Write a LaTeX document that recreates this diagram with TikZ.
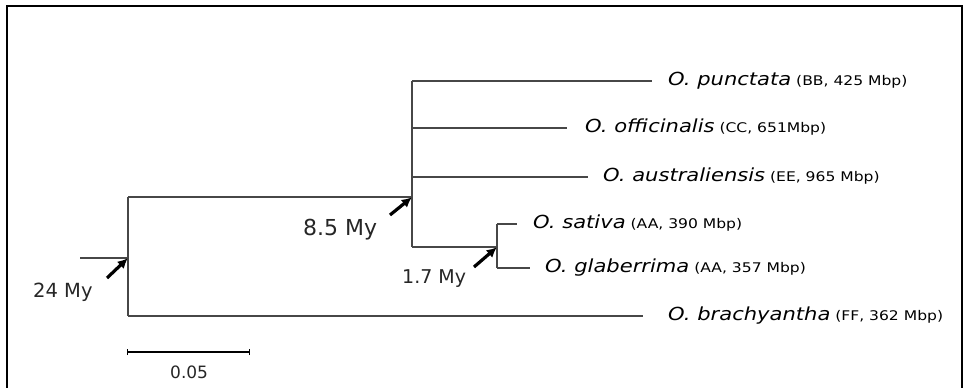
\documentclass[tikz,border=0pt]{standalone}
\usepackage{fontspec}
\setmainfont{DejaVu Sans}
\usetikzlibrary{arrows.meta}
\tikzset{
  branch/.style={draw=black!72, line width=1.4pt},
  leaf/.style={anchor=west, inner sep=0pt, text height=13pt, text depth=4pt},
  agelabel/.style={anchor=base west, inner sep=0pt, text=black!85},
  agearrow/.style={-{Latex[length=10pt,width=10pt]}, line width=3.2pt, black, shorten >=-1pt},
  framepen/.style={draw=black, line width=1.5pt},
}
% species name in oblique, genome details in small upright type, both widened
\newcommand\leaflabel[2]{\scalebox{1.17}[1]{{\fontsize{18}{20}\selectfont\itshape #1}{\fontsize{13.3}{15}\selectfont\ (#2)}}}
\begin{document}
\begin{tikzpicture}[x=1pt,y=-1pt]
  \useasboundingbox (0,0) rectangle (969,388);
  % open frame (no bottom edge)
  \draw[framepen] (7,390) -- (7,6) -- (962,6) -- (962,390);

  % internal nodes of the tree
  \coordinate (root) at (128,258);
  \coordinate (stub) at (80,258);
  \coordinate (rtop) at (128,197);
  \coordinate (rbot) at (128,316);
  \coordinate (cl)   at (412,197);
  \coordinate (cltop) at (412,81);
  \coordinate (cloff) at (412,128);
  \coordinate (claus) at (412,177);
  \coordinate (clbot) at (412,247);
  \coordinate (aa)   at (497,247);
  \coordinate (aatop) at (497,224);
  \coordinate (aabot) at (497,268);

  % leaves
  \node[leaf] (pun) at (668,81)  {\leaflabel{O. punctata}{BB, 425 Mbp}};
  \node[leaf] (off) at (585,128) {\leaflabel{O. officinalis}{CC, 651Mbp}};
  \node[leaf] (aus) at (603,177) {\leaflabel{O. australiensis}{EE, 965 Mbp}};
  \node[leaf] (sat) at (533,224) {\leaflabel{O. sativa}{AA, 390 Mbp}};
  \node[leaf] (gla) at (545,268) {\leaflabel{O. glaberrima}{AA, 357 Mbp}};
  \node[leaf] (bra) at (668,316) {\leaflabel{O. brachyantha}{FF, 362 Mbp}};

  % branches
  \draw[branch] (stub) -- (root);
  \draw[branch] (rtop) -- (rbot);
  \draw[branch] (rtop) -- (cl);
  \draw[branch] (rbot) -- ([xshift=-25pt]bra.west);
  \draw[branch] (cltop) -- (clbot);
  \draw[branch] (cltop) -- ([xshift=-16pt]pun.west);
  \draw[branch] (cloff) -- ([xshift=-18pt]off.west);
  \draw[branch] (claus) -- ([xshift=-15pt]aus.west);
  \draw[branch] (clbot) -- (aa);
  \draw[branch] (aatop) -- (aabot);
  \draw[branch] (aatop) -- ([xshift=-16pt]sat.west);
  \draw[branch] (aabot) -- ([xshift=-15pt]gla.west);

  % divergence times
  \node[agelabel, font=\fontsize{19.5}{22}\selectfont] (t24) at (33,297)  {24 My};
  \node[agelabel, font=\fontsize{22}{24}\selectfont]   (t85) at (303,235) {8.5 My};
  \node[agelabel, font=\fontsize{19}{21}\selectfont]   (t17) at (402,283) {1.7 My};
  \coordinate (a24) at (107,278);
  \coordinate (a85) at (390,215);
  \coordinate (a17) at (474,267);
  \draw[agearrow] (a24) -- ([xshift=-1pt,yshift=-1pt]root);
  \draw[agearrow] (a85) -- ([xshift=-1pt,yshift=-1pt]cl);
  \draw[agearrow] (a17) -- ([xshift=-1pt,yshift=-1pt]aa);

  % scale bar
  \coordinate (sb1) at (127,352);
  \coordinate (sb2) at (249,352);
  \draw[black, line width=1.3pt] (sb1) -- (sb2);
  \draw[black, line width=0.8pt] ([yshift=-3pt]sb1) -- ([yshift=3pt]sb1);
  \draw[black, line width=0.8pt] ([yshift=-3pt]sb2) -- ([yshift=3pt]sb2);
  \node[agelabel, font=\fontsize{17}{19}\selectfont] (sbl) at (170,378) {0.05};
\end{tikzpicture}
\end{document}
